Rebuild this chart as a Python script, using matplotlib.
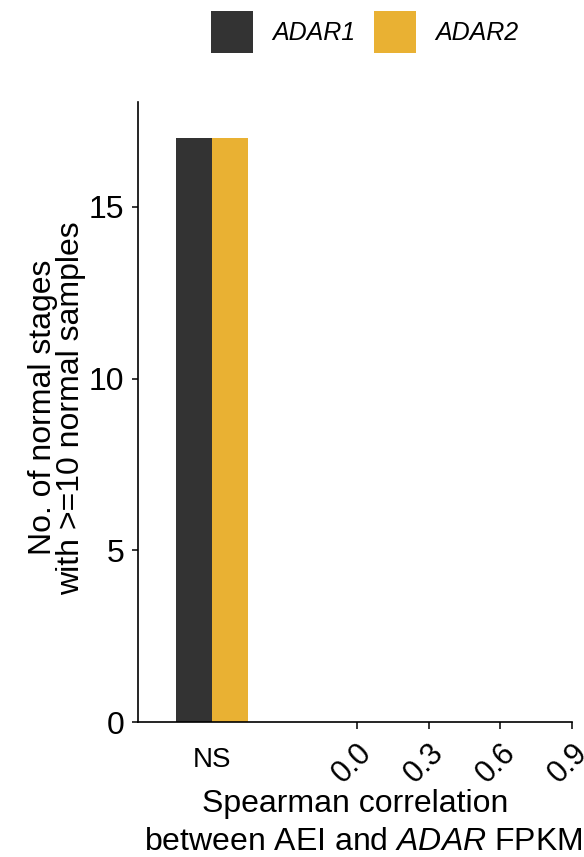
import matplotlib
matplotlib.use("Agg")
import matplotlib.pyplot as plt
from matplotlib.patches import Rectangle

plt.rcParams["font.family"] = ["Liberation Sans", "DejaVu Sans"]
plt.rcParams["mathtext.fontset"] = "custom"
plt.rcParams["mathtext.rm"] = "Liberation Sans"
plt.rcParams["mathtext.it"] = "Liberation Sans:italic"

# Data
genes = ["ADAR1", "ADAR2"]
gene_colors = ["#333333", "#E9B133"]
ns_counts = [17, 17]          # stages with non-significant correlation
corr_ticks = [0.0, 0.3, 0.6, 0.9]
corr_tick_labels = ["0.0", "0.3", "0.6", "0.9"]
ns_label = "NS"
y_ticks = [0, 5, 10, 15]

ns_pos = -0.605
bar_w = 0.15

fig = plt.figure(figsize=(5.84, 8.57), dpi=100)
ax = fig.add_axes([138 / 584, 1 - 722 / 857, 434 / 584, 620 / 857])

for i, (g, c, v) in enumerate(zip(genes, gene_colors, ns_counts)):
    ax.bar(ns_pos + (i - 0.5) * bar_w, v, width=bar_w, color=c, label=g)

ax.set_xlim(-0.915, 0.9)
ax.set_ylim(0, 18.05)

for s in ["top", "right"]:
    ax.spines[s].set_visible(False)
for s in ["left", "bottom"]:
    ax.spines[s].set_linewidth(1.2)
    ax.spines[s].set_color("black")

ax.set_yticks(y_ticks)
ax.set_yticklabels([str(t) for t in y_ticks], fontsize=23)
ax.tick_params(axis="y", length=4, width=1.1, pad=6, colors="black")

ax.set_xticks(corr_ticks)
ax.set_xticklabels(corr_tick_labels, fontsize=22, rotation=45,
                   ha="right", va="top", rotation_mode="anchor")
ax.tick_params(axis="x", which="major", length=5, width=1.1, pad=6)
ax.set_xticks([ns_pos], minor=True)
ax.set_xticklabels([ns_label], minor=True, fontsize=20)
ax.tick_params(axis="x", which="minor", length=0, pad=18)

fig.text(355 / 584, 1 - 804 / 857, "Spearman correlation", fontsize=23,
         ha="center", va="center")
fig.text(363 / 584, 1 - 842 / 857, r"between AEI and $\mathit{ADAR}$ FPKM",
         fontsize=23, ha="center", va="center")

fig.text(43 / 584, 1 - 407 / 857, "No. of normal stages", fontsize=23,
         rotation=90, ha="center", va="center")
fig.text(71 / 584, 1 - 408 / 857, "with >=10 normal samples", fontsize=23,
         rotation=90, ha="center", va="center")

# Legend
sq = 42
for x0, tx, g, c in [(211, 272, genes[0], gene_colors[0]),
                     (374, 435, genes[1], gene_colors[1])]:
    fig.add_artist(Rectangle((x0 / 584, 1 - 53 / 857), sq / 584, sq / 857,
                             transform=fig.transFigure, color=c, lw=0))
    fig.text(tx / 584, 1 - 33 / 857, g, fontsize=18, style="italic",
             ha="left", va="center")

fig.savefig("out.png", dpi=100, facecolor="white")
